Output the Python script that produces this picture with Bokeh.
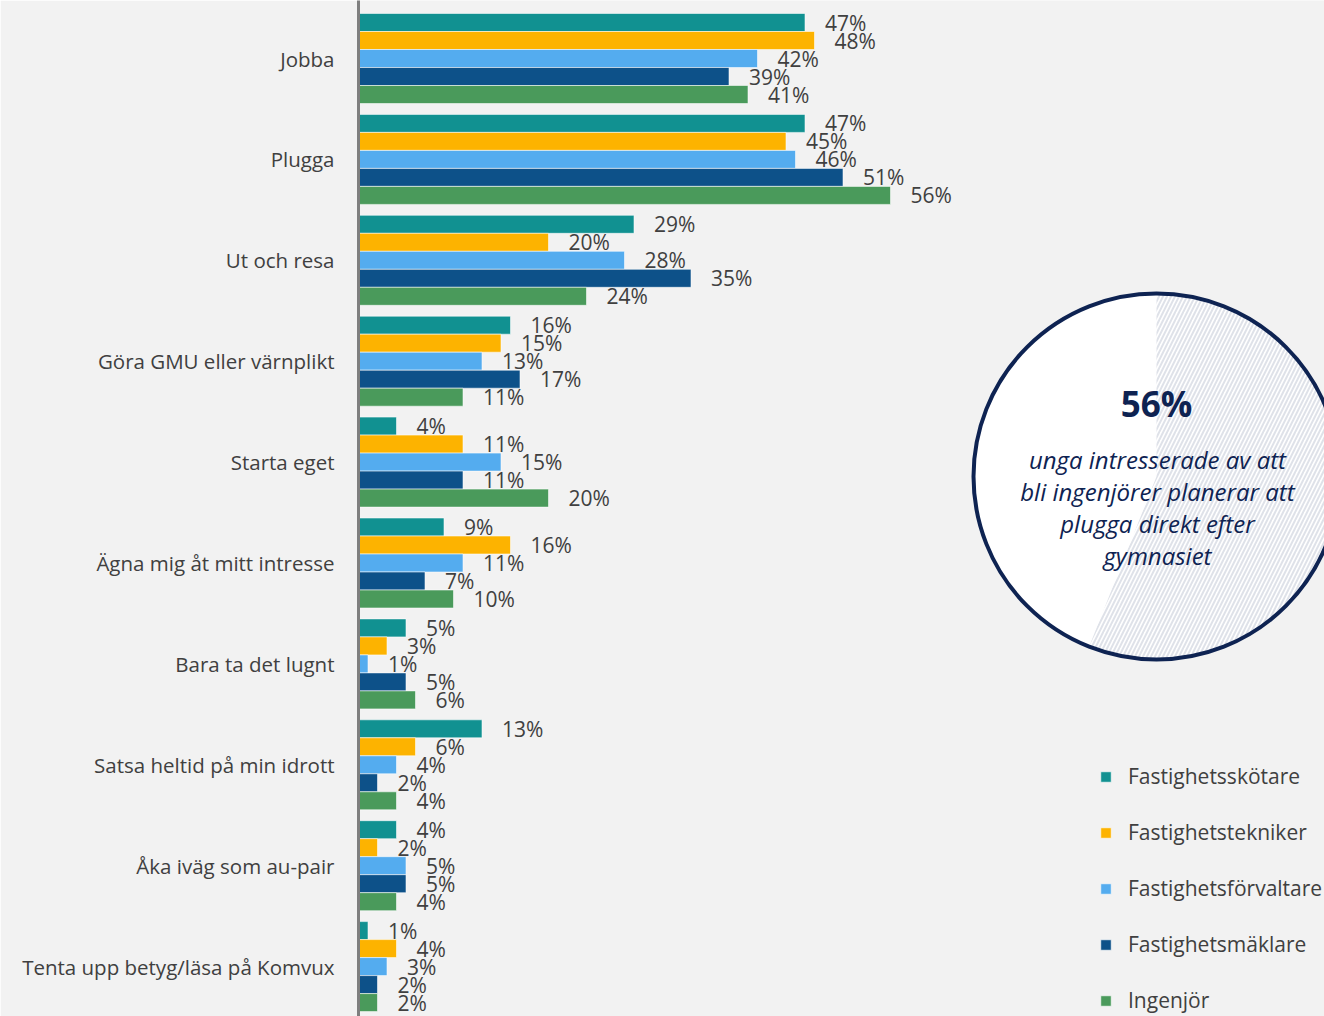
import math
from bokeh.plotting import figure
from bokeh.models import Range1d, FixedTicker, Legend, LegendItem, ColumnDataSource
from bokeh.core.properties import value
from bokeh.embed import file_html
from bokeh.resources import INLINE

categories = [
    "Jobba",
    "Plugga",
    "Ut och resa",
    "Göra GMU eller värnplikt",
    "Starta eget",
    "Ägna mig åt mitt intresse",
    "Bara ta det lugnt",
    "Satsa heltid på min idrott",
    "Åka iväg som au-pair",
    "Tenta upp betyg/läsa på Komvux",
]
series_names = [
    "Fastighetsskötare",
    "Fastighetstekniker",
    "Fastighetsförvaltare",
    "Fastighetsmäklare",
    "Ingenjör",
]
fastighetsskotare = [47, 47, 29, 16, 4, 9, 5, 13, 4, 1]
fastighetstekniker = [48, 45, 20, 15, 11, 16, 3, 6, 2, 4]
fastighetsforvaltare = [42, 46, 28, 13, 15, 11, 1, 4, 5, 3]
fastighetsmaklare = [39, 51, 35, 17, 11, 7, 5, 2, 5, 2]
ingenjor = [41, 56, 24, 11, 20, 10, 6, 4, 4, 2]
series_values = [fastighetsskotare, fastighetstekniker, fastighetsforvaltare,
                 fastighetsmaklare, ingenjor]
colors = ["#119191", "#FDB300", "#54ACEF", "#0D5189", "#4A9A5B"]

highlight_value = 56
highlight_lines = [
    "unga intresserade av att",
    "bli ingenjörer planerar att",
    "plugga direkt efter",
    "gymnasiet",
]

W, H = 1324, 1016
LEFT = 358
group_px = 100.9
px_per_unit_x = 9.5
frame_w = W - LEFT
x_end = frame_w / px_per_unit_x
n = len(categories)
top_margin_units = 58 / group_px
span_units = H / group_px
y_top = (n - 1) + top_margin_units
y_bottom = y_top - span_units

p = figure(width=W, height=H,
           x_range=Range1d(0, x_end), y_range=Range1d(y_bottom, y_top),
           output_backend="svg", toolbar_location=None,
           x_axis_location=None,
           min_border_left=LEFT, min_border_right=0,
           min_border_top=0, min_border_bottom=0,
           background_fill_color="#f2f2f2", border_fill_color="#f2f2f2",
           outline_line_color=None)
p.xgrid.visible = False
p.ygrid.visible = False

bar_h = 18 / group_px
FONT = value("Open Sans")

renderers = []
for j, (vals, col) in enumerate(zip(series_values, colors)):
    ys = [(n - 1 - i) - (j - 2) * bar_h for i in range(n)]
    src = ColumnDataSource(dict(y=ys, v=vals, lab=[f"{v}%" for v in vals]))
    r = p.hbar(y="y", left=0, right="v", height=bar_h, source=src,
               fill_color=col, line_color="#ffffff", line_alpha=0.55, line_width=1)
    renderers.append(r)
    p.text(x="v", y="y", text="lab", source=src, x_offset=20, y_offset=0,
           text_align="left", text_baseline="middle", text_font=FONT,
           text_font_size="21px", text_color="#404040")

# y axis
ax = p.yaxis[0]
ax.ticker = FixedTicker(ticks=list(range(n)))
ax.major_label_overrides = {n - 1 - i: c for i, c in enumerate(categories)}
ax.axis_line_color = "#7f7f7f"
ax.axis_line_width = 3
ax.major_tick_line_color = None
ax.minor_tick_line_color = None
ax.major_label_standoff = 18
ax.major_label_text_font = "Open Sans"
ax.major_label_text_font_size = "20.5px"
ax.major_label_text_color = "#404040"

# highlight circle
cx = (1156 - 358) / px_per_unit_x
cy = (n - 1) - (476 - 58) / group_px
R = 183
p.scatter(x=[cx], y=[cy], size=2 * R, marker="circle", fill_color="white", line_color=None)
p.wedge(x=[cx], y=[cy], radius=R, radius_units="screen",
        start_angle=math.pi / 2,
        end_angle=math.pi / 2 - 2 * math.pi * highlight_value / 100,
        direction="clock", fill_color="white", hatch_pattern="/",
        hatch_color="#dfe2e9", hatch_weight=2, hatch_scale=8, line_color=None)
p.scatter(x=[cx], y=[cy], size=2 * R, marker="circle", fill_color=None,
          line_color="#0e2352", line_width=4)

p.text(x=[cx], y=[cy + (476 - 403) / group_px], text=[f"{highlight_value}%"],
       text_align="center", text_baseline="middle", text_font=FONT,
       text_font_style="bold", text_font_size="35px", text_color="#0e2352")
line_ys = [459, 491, 523, 555]
p.text(x=[cx + 0.1] * len(highlight_lines),
       y=[cy + (476 - ly) / group_px for ly in line_ys],
       text=highlight_lines, text_align="center", text_baseline="middle",
       text_font=FONT, text_font_style="italic", text_font_size="24px",
       text_color="#0e2352")

legend = Legend(
    items=[LegendItem(label=nm, renderers=[r]) for nm, r in zip(series_names, renderers)],
    location=(741, 1), orientation="vertical",
    glyph_width=13, glyph_height=13, label_height=30, spacing=26,
    padding=0, margin=0, border_line_color=None, background_fill_alpha=0,
    label_text_font="Open Sans", label_text_font_size="21px",
    label_text_color="#404040", label_standoff=16,
)
p.add_layout(legend)

open("out.html", "w").write(file_html(p, INLINE))
